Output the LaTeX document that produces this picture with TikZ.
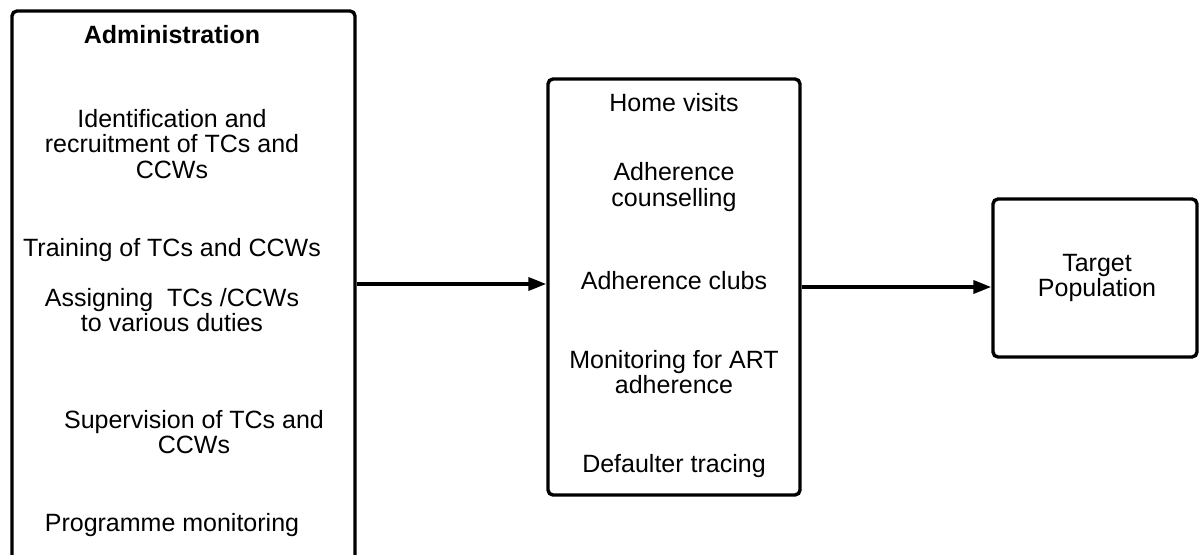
\documentclass[tikz,border=0pt]{standalone}
\usepackage{fontspec}
\setmainfont{Liberation Sans}
\usepackage{tikz}
\usetikzlibrary{positioning,arrows.meta,calc}
\tikzset{
  box/.style={draw, line width=1.7pt, rounded corners=2.5pt, inner sep=0pt},
  label/.style={align=center, inner sep=0pt, font=\fontsize{12.5}{12.8}\selectfont},
  arrow/.style={-{Triangle[length=9pt,width=6.5pt]}, line width=1.8pt},
}
\begin{document}
\begin{tikzpicture}[x=0.5pt, y=-0.5pt]
  \useasboundingbox (0,0) rectangle (1199,555);
  \clip (0,0) rectangle (1199,555);

  % boxes
  \node[box, minimum width=171.5pt, minimum height=277pt] (admin)    at (183.5,288) {};
  \node[box, minimum width=126pt,   minimum height=208pt] (services) at (674,287) {};
  \node[box, minimum width=102pt,   minimum height=79pt]  (target)   at (1095,278) {};

  % left box texts
  \node[label, font=\fontsize{12.5}{12.8}\selectfont\bfseries] (a0) at (172,35) {Administration};
  \node[label] (a1) at (172,144) {Identification and\\recruitment of TCs and\\CCWs};
  \node[label] (a2) at (172,250) {Training of TCs and CCWs};
  \node[label] (a3) at (172,310) {Assigning\ \ TCs /CCWs\\to various duties};
  \node[label] (a4) at (194,432) {Supervision of TCs and\\CCWs};
  \node[label] (a5) at (172,525) {Programme monitoring};

  % middle box texts
  \node[label] (s1) at (674,103) {Home visits};
  \node[label] (s2) at (674,187) {Adherence\\counselling};
  \node[label] (s3) at (674,281) {Adherence clubs};
  \node[label] (s4) at (674,372) {Monitoring for ART\\adherence};
  \node[label] (s5) at (674,466) {Defaulter tracing};

  % right box text
  \node[label] (t1) at (1097,278) {Target\\Population};

  \draw[arrow] (admin.east |- 0,284) -- (services.west |- 0,284);
  \draw[arrow] (services.east) -- (services.east -| target.west);
\end{tikzpicture}
\end{document}
